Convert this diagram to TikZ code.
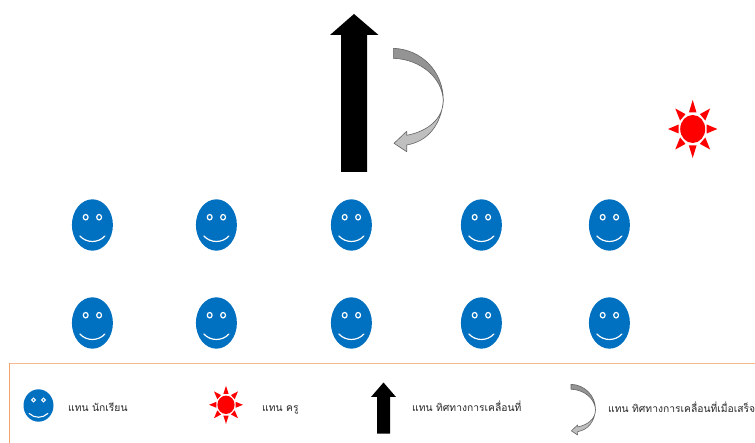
\documentclass[tikz,border=0pt]{standalone}
\usepackage{fontspec}
\newfontfamily\thaifont[Script=Thai]{Loma}
\definecolor{faceblue}{HTML}{0070C0}
\definecolor{framepeach}{HTML}{F2A36B}
\tikzset{
  x=1pt,y=-1pt,
  legendtext/.style={font=\thaifont\fontsize{10.3}{12}\selectfont,text=black!85,anchor=base west,inner sep=0pt},
  bigface/.pic={
    \fill[faceblue] (0,0) ellipse [x radius=20.5,y radius=25.7];
    \foreach \s in {-1,1}{\draw[white,fill=faceblue,line width=1.2pt] (\s*6.7,-7.8) ellipse [x radius=2.4,y radius=2.7];}
    \draw[white,line width=1.2pt,line cap=round] (-12.5,11) .. controls (-6,18.3) and (6,18.3) .. (12.5,11);
  },
  smallface/.pic={
    \fill[faceblue] (0,0) ellipse [x radius=15,y radius=16.2];
    \foreach \s in {-1,1}{\draw[white,fill=faceblue,line width=1pt] (\s*5,-5.5) circle [radius=1.8];}
    \draw[white,line width=1.1pt,line cap=round] (-9.3,8) .. controls (-4,13) and (4,13) .. (9.3,8);
  },
  sunshape/.pic={
    \fill[red] (0,0) ellipse [x radius=14.7,y radius=14];
    \foreach \a in {0,45,...,315}{
      \fill[red,rotate=\a] (16.5,-4.5) -- (29,0) -- (16.5,4.5) -- cycle;
    }
  },
  curvedarrow/.pic={
    \draw[black!60,fill=black!25,line width=.6pt,line join=round]
      (50,52) .. controls (50,70) and (35,83) .. (13.4,87) -- (13.4,83) -- (0.7,95) -- (13.4,103.4) -- (13.4,96.7)
      .. controls (35,93) and (48,76) .. (50,52) -- cycle;
    \draw[black!60,fill=black!42,line width=.6pt,line join=round]
      (0,0) .. controls (28,1) and (50,23) .. (50,52)
      .. controls (49,30) and (28,11) .. (0,10) -- cycle;
  },
}
\begin{document}
\begin{tikzpicture}
\useasboundingbox (0,0) rectangle (755,443);
\clip (0,0) rectangle (755,443);
\fill[white] (0,0) rectangle (755,443);
% big arrow and turning arrow
\fill[black] (341,172) -- (341,35) -- (330,35) -- (354,14) -- (378.5,35) -- (367,35) -- (367,172) -- cycle;
\pic at (393.3,48.3) {curvedarrow};
% teacher
\pic[xscale=.85] at (692.7,129) {sunshape};
% students
\foreach \px in {92.4,216.4,351.4,481.4,609.4}{
  \pic at (\px,225) {bigface};
  \pic at (\px,323) {bigface};
}
% legend frame
\fill[framepeach!75] (9,362.8) rectangle (755,364.2);
\fill[framepeach] (9,362.8) rectangle (10.2,443);
\pic at (38.5,405.5) {smallface};
\pic[xscale=.585,yscale=.655] at (226,404.8) {sunshape};
\node[legendtext] (t1) at (68,411) {แทน นักเรียน};
\node[legendtext] (t2) at (262,411) {แทน ครู};
\fill[black] (377,433.5) -- (377,397) -- (371,397) -- (383.5,382.5) -- (396,397) -- (390,397) -- (390,433.5) -- cycle;
\node[legendtext] (t3) at (412,411.5) {แทน ทิศทางการเคลื่อนที่};
\pic[scale=.49] at (571,384.3) {curvedarrow};
\node[legendtext] (t4) at (608,412.5) {แทน ทิศทางการเคลื่อนที่เมื่อเสร็จ};
\end{tikzpicture}
\end{document}
